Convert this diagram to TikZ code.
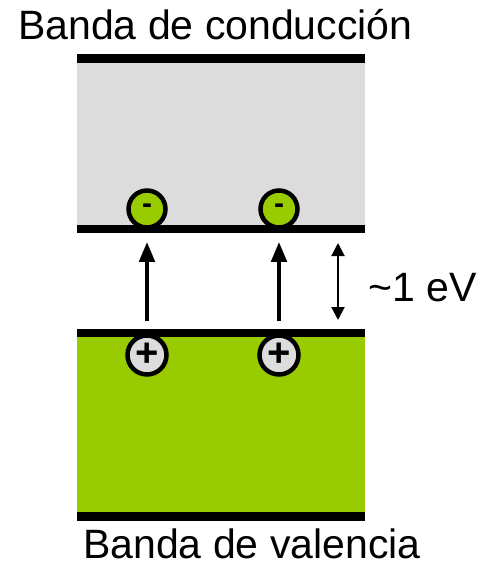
\documentclass[tikz,border=0pt]{standalone}
\usepackage{fontspec}
\setmainfont{Liberation Sans}
\usetikzlibrary{arrows.meta}
\definecolor{bandgreen}{HTML}{99CC00}
\definecolor{bandgray}{HTML}{DCDCDC}
\begin{document}
\begin{tikzpicture}[x=1pt,y=-1pt,
  bar/.style={fill=black,draw=none},
  electron/.style={circle,draw=black,line width=4.5pt,fill=bandgreen,minimum size=37pt,inner sep=0pt,font=\fontsize{30}{30}\selectfont\bfseries},
  hole/.style={circle,draw=black,line width=4.5pt,fill=bandgray,minimum size=39pt,inner sep=0pt,font=\fontsize{40}{40}\selectfont\bfseries},
  excite/.style={line width=4.5pt,-{Triangle[width=15pt,length=20pt]}},
  gap/.style={line width=2pt,{Triangle[width=13pt,length=13pt]}-{Triangle[width=13pt,length=13pt]}},
  label/.style={font=\fontsize{41}{41}\selectfont,inner sep=0pt}]
\useasboundingbox (0,0) rectangle (481,581);
\fill[white] (0,0) rectangle (481,581);
% conduction band
\fill[bandgray] (77,63) rectangle (365,225);
\fill[bar] (77,54) rectangle (365,63);
\fill[bar] (77,225) rectangle (365,233);
% valence band
\fill[bandgreen] (77,337) rectangle (365,512);
\fill[bar] (77,329) rectangle (365,337);
\fill[bar] (77,512) rectangle (365,521);
% carriers
\node[electron] (e1) at (147,209) {-};
\node[electron] (e2) at (279,209) {-};
\node[hole] (h1) at (147,355) {+};
\node[hole] (h2) at (279,355) {+};
\draw[excite,shorten <=12pt,shorten >=12pt] (h1) -- (e1);
\draw[excite,shorten <=12pt,shorten >=12pt] (h2) -- (e2);
% gap
\coordinate (gt) at (338,243);
\coordinate (gb) at (338,320);
\draw[gap] (gt) -- (gb);
\node[label,anchor=base west] (ev) at (368,301) {\textasciitilde1 eV};
% titles
\node[label,anchor=base west] (cb) at (18,39) {Banda de conducción};
\node[label,anchor=base west] (vb) at (83,558) {Banda de valencia};
\end{tikzpicture}
\end{document}
